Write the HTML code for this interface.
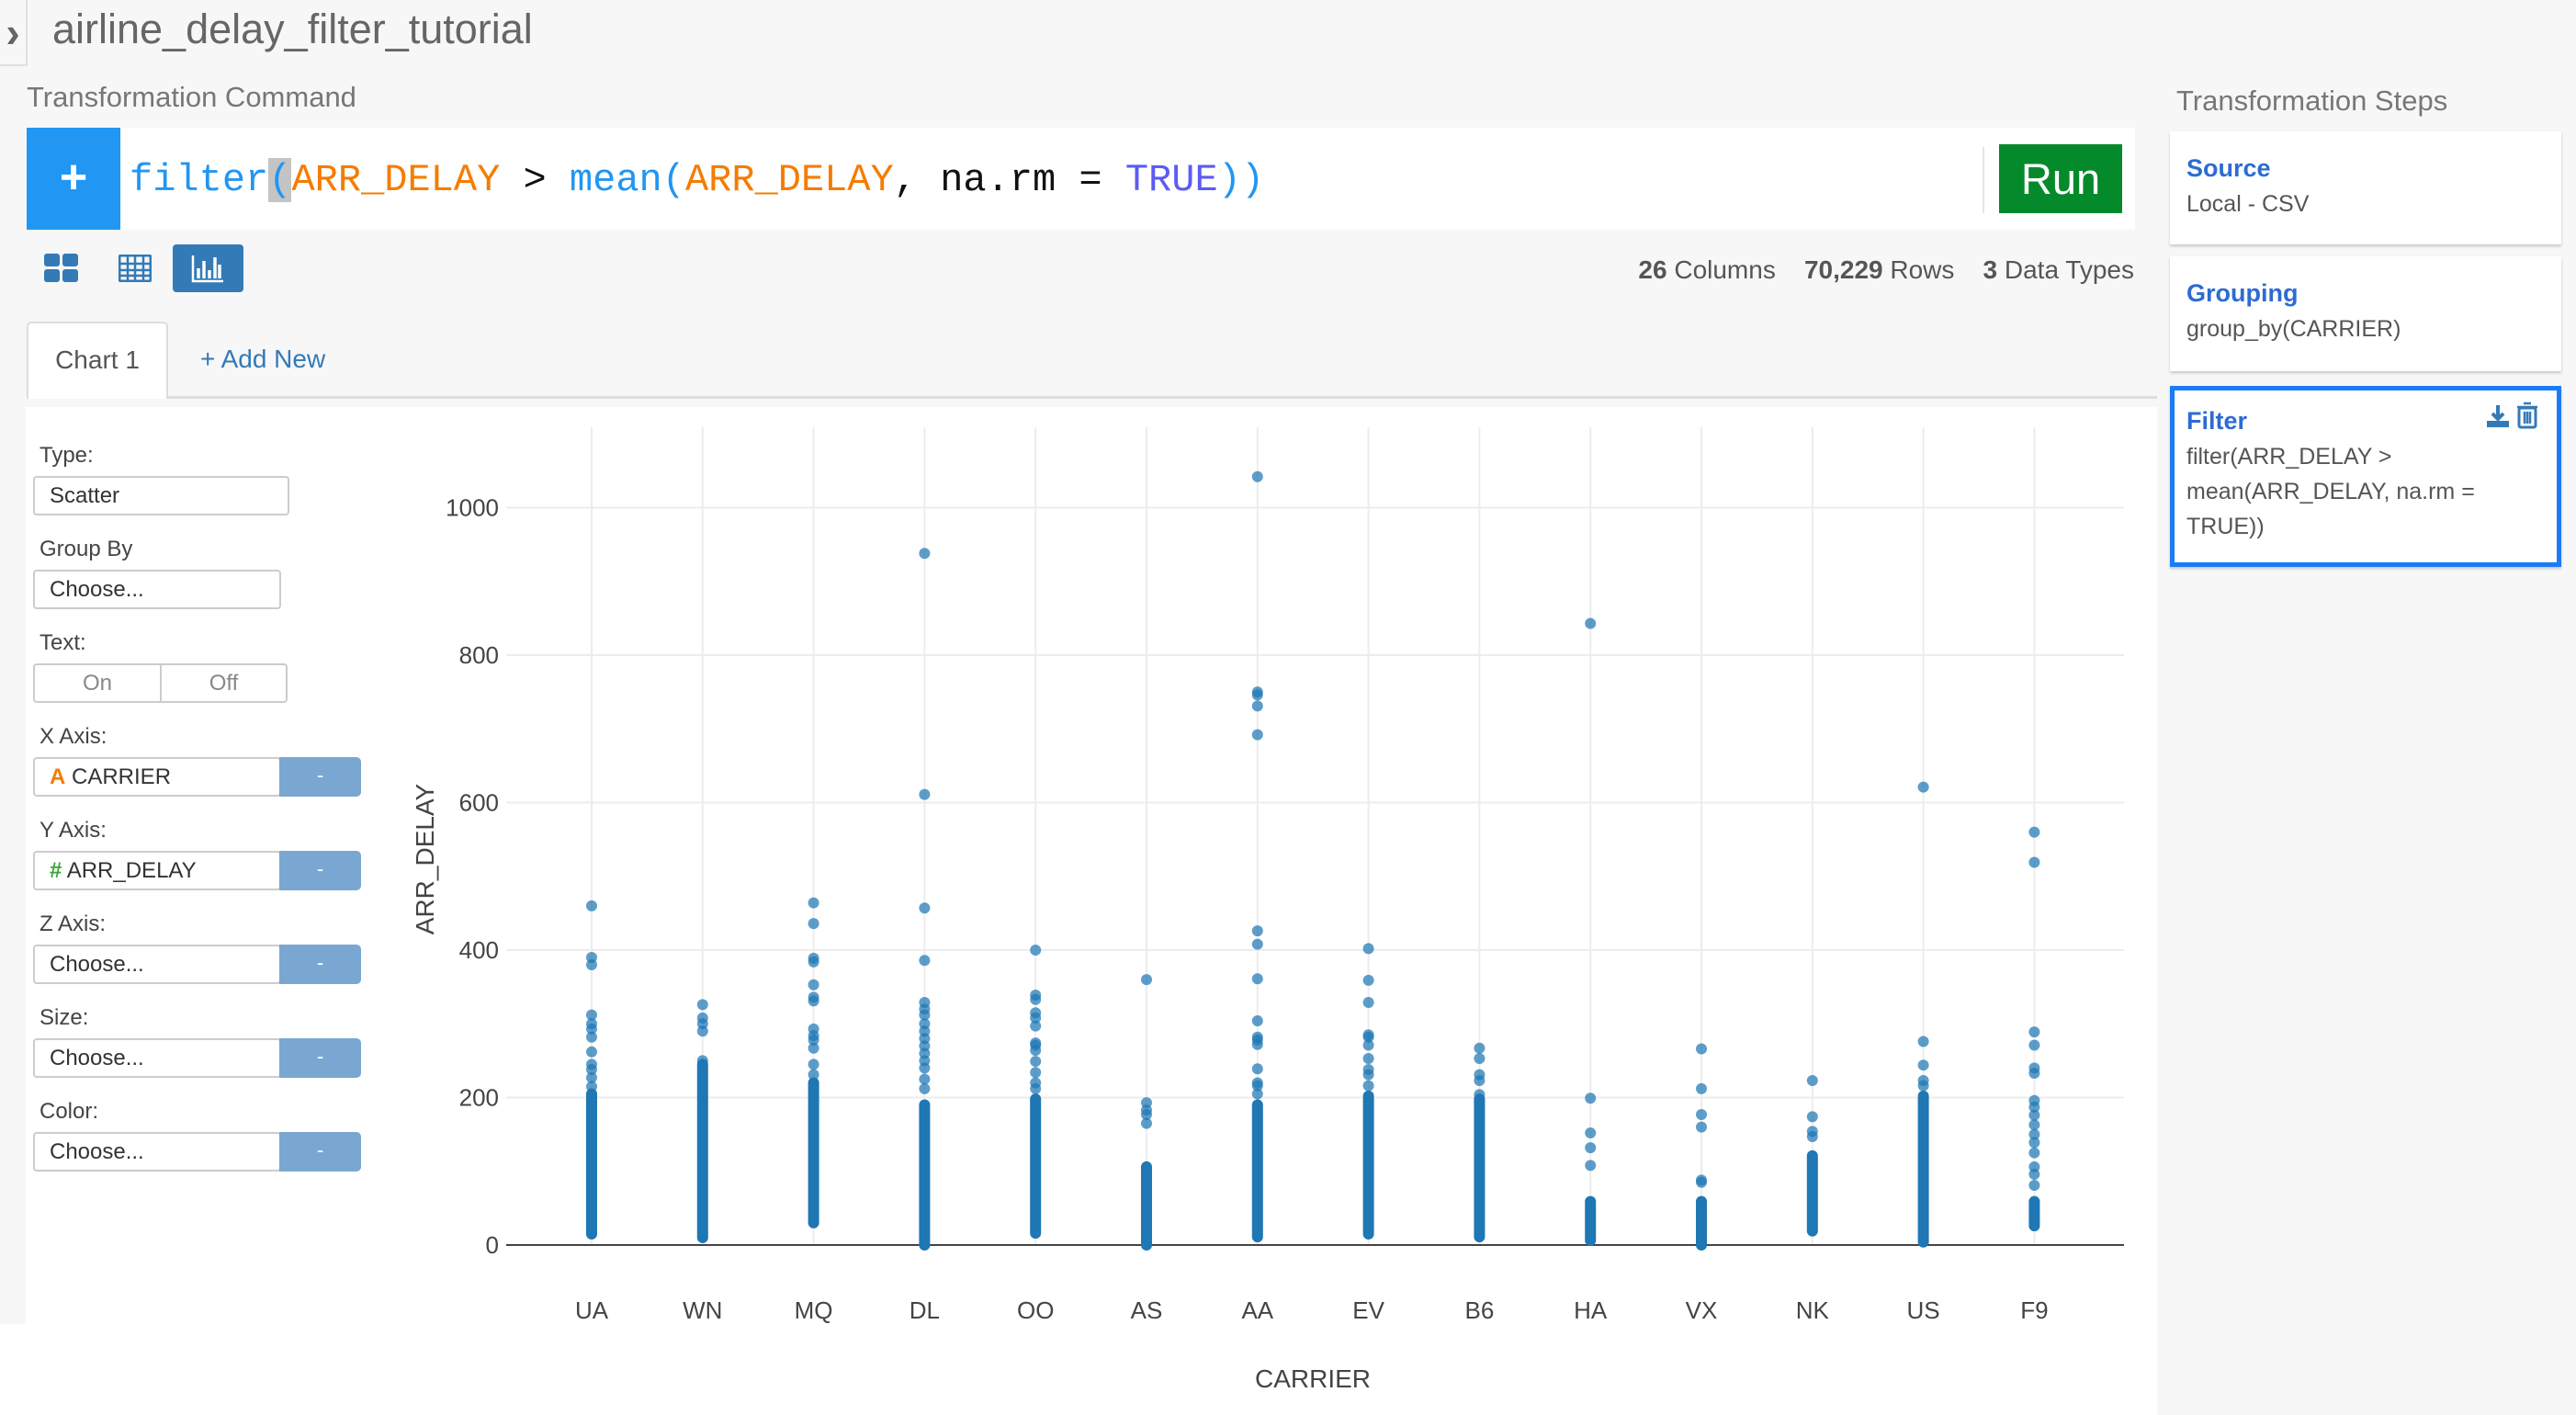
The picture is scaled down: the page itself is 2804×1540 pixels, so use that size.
<!DOCTYPE html>
<html><head><meta charset="utf-8">
<style>
*{box-sizing:border-box;margin:0;padding:0}
body{width:2804px;height:1540px;background:#f7f7f7;font-family:"Liberation Sans",sans-serif;position:relative;overflow:hidden;color:#333}
.abs{position:absolute}
.lbl{position:absolute;left:43px;font-size:24px;color:#444}
.inp{position:absolute;left:36px;height:43px;background:#fff;border:2px solid #ccc;border-radius:4px;font-size:24px;color:#333;padding-left:16px;line-height:39px}
.btn{position:absolute;left:304px;width:89px;height:43px;background:#7aa7d1;border-radius:0 5px 5px 0;color:#fff;text-align:center;line-height:40px;font-size:22px}
.card{position:absolute;left:2362px;width:426px;background:#fff;box-shadow:0 2px 3px rgba(0,0,0,.2);padding:20px 0 0 18px}
.ct{color:#2d6bd3;font-weight:bold;font-size:27px;line-height:40px}
.cs{color:#555;font-size:25px;line-height:38px}
</style></head><body>
<div class="abs" style="left:0;top:0;width:30px;height:72px;border-right:2px solid #e0e0e0;border-bottom:2px solid #e0e0e0;color:#666;font-size:46px;line-height:70px;text-align:center;font-weight:bold">›</div>
<div class="abs" style="left:57px;top:6px;font-size:45px;color:#666">airline_delay_filter_tutorial</div>
<div class="abs" style="left:29px;top:88px;font-size:31px;color:#777">Transformation Command</div>
<div class="abs" style="left:29px;top:139px;width:2295px;height:111px;background:#fff"></div>
<div class="abs" style="left:29px;top:139px;width:102px;height:111px;background:#2196f3;color:#fff;font-size:52px;font-weight:bold;text-align:center;line-height:108px">+</div>
<div class="abs" style="left:141px;top:172px;font-family:'Liberation Mono',monospace;font-size:42px;white-space:pre;color:#111"><span style="color:#2196f3">filter</span><span style="color:#2196f3;background:#c4c4c4">(</span><span style="color:#f57c00">ARR_DELAY</span> &gt; <span style="color:#2196f3">mean(</span><span style="color:#f57c00">ARR_DELAY</span>, na.rm = <span style="color:#5b5bf5">TRUE</span><span style="color:#2196f3">))</span></div>
<div class="abs" style="left:2158px;top:160px;width:2px;height:72px;background:#e6e6e6"></div>
<div class="abs" style="left:2176px;top:157px;width:134px;height:75px;background:#058a2b;color:#fff;font-size:47px;text-align:center;line-height:75px">Run</div>
<svg class="abs" style="left:48px;top:276px" width="38" height="32"><rect x="0" y="0" width="17" height="14" rx="3" fill="#337ab7"/><rect x="20" y="0" width="17" height="14" rx="3" fill="#337ab7"/><rect x="0" y="17" width="17" height="14" rx="3" fill="#337ab7"/><rect x="20" y="17" width="17" height="14" rx="3" fill="#337ab7"/></svg>
<svg class="abs" style="left:129px;top:277px" width="36" height="30"><rect x="1" y="1" width="34" height="28" rx="2" fill="none" stroke="#337ab7" stroke-width="3"/><path d="M1 10H35M1 17H35M1 23H35M10 1V29M18 1V29M27 1V29" stroke="#337ab7" stroke-width="2.5"/></svg>
<div class="abs" style="left:188px;top:266px;width:77px;height:52px;background:#337ab7;border-radius:4px"><svg width="77" height="52"><path d="M22 12V40H55" stroke="#fff" stroke-width="2.5" fill="none"/><path d="M28 37V26M34 37V18M40 37V28M46 37V14M51 37V22" stroke="#fff" stroke-width="3.5"/></svg></div>
<div class="abs" style="right:481px;top:278px;font-size:28px;color:#555;white-space:nowrap"><b>26</b> Columns&nbsp;&nbsp;&nbsp; <b>70,229</b> Rows&nbsp;&nbsp;&nbsp; <b>3</b> Data Types</div>
<div class="abs" style="left:29px;top:431px;width:2319px;height:3px;background:#ddd"></div>
<div class="abs" style="left:29px;top:350px;width:154px;height:84px;background:#fff;border:2px solid #ddd;border-bottom:none;border-radius:5px 5px 0 0;font-size:28px;color:#555;text-align:center;line-height:80px">Chart 1</div>
<div class="abs" style="left:218px;top:375px;font-size:28px;color:#337ab7">+ Add New</div>
<div class="abs" style="left:28px;top:443px;width:2320px;height:1000px;background:#fff"></div>
<div class="abs" style="left:0;top:1441px;width:2348px;height:99px;background:#fff"></div>

<div class="lbl" style="top:482px">Type:</div>
<div class="inp" style="top:518px;width:279px">Scatter</div>
<div class="lbl" style="top:584px">Group By</div>
<div class="inp" style="top:620px;width:270px">Choose...</div>
<div class="lbl" style="top:686px">Text:</div>
<div class="inp" style="top:722px;width:140px;padding:0;text-align:center;color:#888;border-radius:4px 0 0 4px">On</div>
<div class="inp" style="left:174px;top:722px;width:139px;padding:0;text-align:center;color:#888;border-radius:0 4px 4px 0">Off</div>
<div class="lbl" style="top:788px">X Axis:</div>
<div class="inp" style="top:824px;width:270px"><span style="color:#f57c00;font-weight:bold">A</span> CARRIER</div>
<div class="btn" style="top:824px">-</div>
<div class="lbl" style="top:890px">Y Axis:</div>
<div class="inp" style="top:926px;width:270px"><span style="color:#3aa63a;font-weight:bold">#</span> ARR_DELAY</div>
<div class="btn" style="top:926px">-</div>
<div class="lbl" style="top:992px">Z Axis:</div>
<div class="inp" style="top:1028px;width:270px">Choose...</div>
<div class="btn" style="top:1028px">-</div>
<div class="lbl" style="top:1094px">Size:</div>
<div class="inp" style="top:1130px;width:270px">Choose...</div>
<div class="btn" style="top:1130px">-</div>
<div class="lbl" style="top:1196px">Color:</div>
<div class="inp" style="top:1232px;width:270px">Choose...</div>
<div class="btn" style="top:1232px">-</div>

<div class="abs" style="left:2369px;top:92px;font-size:31px;color:#777">Transformation Steps</div>
<div class="card" style="top:143px;height:123px"><div class="ct">Source</div><div class="cs">Local - CSV</div></div>
<div class="card" style="top:279px;height:125px"><div class="ct">Grouping</div><div class="cs">group_by(CARRIER)</div></div>
<div class="card" style="top:420px;height:197px;border:5px solid #1a7cf5;padding:13px 0 0 13px"><div class="ct">Filter</div><div class="cs">filter(ARR_DELAY &gt;<br>mean(ARR_DELAY, na.rm =<br>TRUE))</div>
<svg class="abs" style="left:338px;top:14px" width="28" height="28"><path d="M14 2V16M8 11L14 17L20 11" stroke="#337ab7" stroke-width="4" fill="none"/><rect x="2" y="19" width="24" height="7" fill="#337ab7"/></svg>
<svg class="abs" style="left:372px;top:12px" width="24" height="30"><rect x="3" y="7" width="18" height="21" rx="2" fill="none" stroke="#337ab7" stroke-width="3"/><path d="M1 6H23M8 2H16M9 11V24M12 11V24M15 11V24" stroke="#337ab7" stroke-width="2.5"/></svg></div>

<svg class="abs" id="chart" style="left:0;top:0" width="2804" height="1540"></svg>
<script>
const categories=["UA","WN","MQ","DL","OO","AS","AA","EV","B6","HA","VX","NK","US","F9"];
const denseMin=[15,10,30,0,16,0,11,15,11,6,0,19,4,26];
const denseMax=[205,245,220,190,198,106,190,202,198,59,59,121,202,59];
const outliers=[
[460,390,380,312,300,293,282,262,245,238,227,215],
[326,308,300,290,250],
[464,436,389,384,353,336,331,293,284,278,267,245,231],
[938,611,457,386,329,320,312,300,290,280,270,260,250,240,225,212],
[400,339,333,315,308,297,274,271,264,249,234,220,212],
[360,193,183,177,165],
[1042,750,746,731,692,426,408,361,304,282,278,272,239,220,216,205],
[402,359,329,285,282,271,253,238,231,216],
[267,253,231,223,204],
[843,199,152,132,108],
[266,212,177,160,88,85],
[223,174,154,147],
[621,276,244,223,216],
[560,519,289,271,240,233,196,187,176,163,150,139,125,106,96,81]
];
const yTicks=[0,200,400,600,800,1000];
const NS="http://www.w3.org/2000/svg";
const svg=document.getElementById("chart");
const X0=644,DX=120.8,Y0=1355,KY=0.8025,L=551,R=2312,T=465;
function xs(i){return X0+i*DX;}
function ys(v){return Y0-v*KY;}
function mk(tag,attrs){const e=document.createElementNS(NS,tag);for(const k in attrs)e.setAttribute(k,attrs[k]);svg.appendChild(e);return e;}
categories.forEach((c,i)=>{
  const g=mk("line",{x1:xs(i),x2:xs(i),y1:T,y2:Y0,stroke:"#ececec","stroke-width":2});
  
  
  const t=mk("text",{x:xs(i),y:1435,"text-anchor":"middle","font-size":26,fill:"#444","font-family":"Liberation Sans, sans-serif"});
  t.textContent=c;
  
  
});
yTicks.forEach(v=>{
  if(v>0){const g=mk("line",{x1:L,x2:R,y1:ys(v),y2:ys(v),stroke:"#ececec","stroke-width":2});
  
  }
  const t=mk("text",{x:543,y:ys(v)+9,"text-anchor":"end","font-size":26,fill:"#444","font-family":"Liberation Sans, sans-serif"});
  t.textContent=v;
  
  
});
const zl=mk("line",{x1:L,x2:R,y1:Y0,y2:Y0,stroke:"#444","stroke-width":2});


categories.forEach((c,i)=>{
  const d=mk("line",{x1:xs(i),x2:xs(i),y1:ys(denseMin[i]),y2:ys(denseMax[i]),stroke:"#1f77b4","stroke-width":12,"stroke-linecap":"round"});
  
  
  outliers[i].forEach(v=>{
    const p=mk("circle",{cx:xs(i),cy:ys(v),r:6,fill:"#1f77b4","fill-opacity":0.72});
    
    
  });
});
const xt=mk("text",{x:1429,y:1510,"text-anchor":"middle","font-size":28,fill:"#444","font-family":"Liberation Sans, sans-serif"});
xt.textContent="CARRIER";


const yt=mk("text",{x:0,y:0,"text-anchor":"middle","font-size":28,fill:"#444","font-family":"Liberation Sans, sans-serif",transform:"translate(472,935) rotate(-90)"});
yt.textContent="ARR_DELAY";


</script>
</body></html>
